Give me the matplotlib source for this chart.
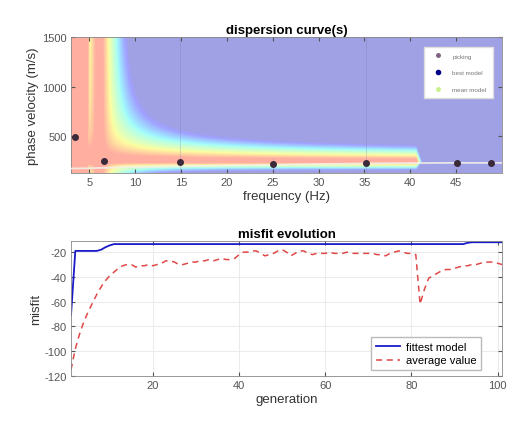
import numpy as np
import matplotlib
matplotlib.use("Agg")
import matplotlib.pyplot as plt
from matplotlib.lines import Line2D

plt.rcParams['font.family'] = ['Liberation Sans', 'DejaVu Sans']
plt.rcParams['axes.unicode_minus'] = False

# ---------------- data ----------------
pick_freq = [3.4, 6.6, 14.9, 25.0, 35.2, 45.1, 48.8]
pick_vel = [490, 255, 245, 225, 235, 230, 230]
pick_err = [30, 30, 1300, 60, 1300, 30, 30]

mean_freq = [3.0, 5.0, 6.6, 10.0, 15.0, 20.0, 25.0, 30.0, 35.0, 40.0, 45.0, 50.0]
mean_vel = [175, 178, 182, 190, 198, 205, 212, 220, 226, 230, 232, 232]

# ridge structure of the background misfit map
ridge_left_center = 3.85
ridge_left_halfwidth = 0.8
ridge_vert_freq = 6.05
ridge_vert_width = 1.9
ridge_horiz_vel = 245
ridge_end_freq = 40.7

generation = list(range(1, 102))
fittest = ([-71, -19, -19, -19, -19, -19, -19, -18, -16, -14.5, -13.5]
           + [-13.5] * 81 + [-12.5] + [-12] * 8)
average = [-115, -98, -86, -76, -68, -61, -54, -48, -43, -39,
           -36, -33, -31, -30, -30, -32, -31, -31, -30, -31,
           -30, -29, -27, -27, -28, -30, -30, -29, -28, -28,
           -27, -27, -26, -27, -26, -25, -26, -26, -25, -22,
           -20, -20, -19, -19, -21, -23, -22, -21, -19, -18,
           -20, -23, -21, -19, -19, -21, -22, -21, -21, -21,
           -20, -21, -21, -21, -20, -21, -21, -21, -21, -21,
           -21, -22, -22, -23, -21, -20, -19, -20, -21, -21,
           -22, -62, -50, -41, -39, -37, -35, -34, -34, -33,
           -32, -31, -31, -30, -30, -29, -28, -28, -28, -29,
           -30]

# ---------------- figure ----------------
fig = plt.figure(figsize=(5.09, 4.27), dpi=100)
ax1 = fig.add_axes([71/509, 1-174/427, 431/509, 136/427])
ax2 = fig.add_axes([71/509, 1-377/427, 431/509, 135/427])

tick_col = '#555555'

# background map
F = np.linspace(3, 50, 500)
V = np.linspace(130, 1500, 400)
FF, VV = np.meshgrid(F, V)
d_left = np.clip(np.abs(FF - ridge_left_center) - ridge_left_halfwidth, 0, None) / 0.8
d1 = np.abs(FF - ridge_vert_freq) / ridge_vert_width
vw = np.where(VV >= ridge_horiz_vel, 90 + 1700 / FF, 70.0)
d2 = np.abs(VV - ridge_horiz_vel) / vw
d_h = d1 * d2 / (d1 + d2 + 1e-9)
fade = np.clip((FF - ridge_end_freq) * 1.5, 0, 1)
d_h = d_h + fade * 1.2
d = np.minimum(d_left, d_h)
J = 0.87 - 0.82 * np.clip((d - 0.2) / 1.0, 0, 1)
rgb = plt.cm.jet(J)[..., :3]
alpha = 0.37
rgb = 1 - alpha * (1 - rgb)
ax1.imshow(rgb, extent=[3, 50, 130, 1500], origin='lower', aspect='auto',
           interpolation='bilinear')

ax1.plot(mean_freq, mean_vel, color='#f2f2ea', lw=1.3, alpha=0.85, zorder=3)
ax1.errorbar(pick_freq, pick_vel, yerr=pick_err, fmt='none',
             ecolor='#8080b0', elinewidth=0.6, alpha=0.35, zorder=3)
ax1.plot(pick_freq, pick_vel, 'o', color='#3a2a3a', ms=4, zorder=4)

ax1.set_xlim(3, 50)
ax1.set_ylim(130, 1500)
ax1.set_xticks([5, 10, 15, 20, 25, 30, 35, 40, 45])
ax1.set_yticks([500, 1000, 1500])
ax1.set_title('dispersion curve(s)', fontsize=9.5, fontweight='bold', pad=3)
ax1.set_xlabel('frequency (Hz)', fontsize=9.5, labelpad=2, color='#333333')
ax1.set_ylabel('phase velocity (m/s)', fontsize=9.5, labelpad=2, color='#333333')

handles = [
    Line2D([], [], marker='o', ls='', color='#806080', ms=2.5),
    Line2D([], [], marker='o', ls='', color='#000088', ms=3),
    Line2D([], [], marker='o', ls='', color='#c8f090', ms=2.5),
]
leg1 = ax1.legend(handles, ['picking', 'best model', 'mean model'],
                  loc='upper right', bbox_to_anchor=(0.986, 0.95), fontsize=4.5,
                  labelspacing=1.8, handlelength=2.5, borderpad=1.0,
                  fancybox=False, framealpha=1, edgecolor='#dddddd',
                  handletextpad=1.0)
leg1.set_zorder(6)
for t in leg1.get_texts():
    t.set_color('#777777')

ax2.plot(generation, fittest, color='#1a1acc', lw=1.3, label='fittest model')
ax2.plot(generation, average, color='#e04848', lw=1.1, ls=(0, (4, 3)),
         label='average value')
ax2.set_xlim(1, 101)
ax2.set_ylim(-120, -11)
ax2.set_xticks([20, 40, 60, 80, 100])
ax2.set_yticks([-120, -100, -80, -60, -40, -20])
ax2.grid(True, color='#e8e8e8', lw=0.6)
ax2.set_title('misfit evolution', fontsize=9.5, fontweight='bold', pad=3)
ax2.set_xlabel('generation', fontsize=9.5, labelpad=2, color='#333333')
ax2.set_ylabel('misfit', fontsize=9.5, labelpad=2, color='#333333')
leg2 = ax2.legend(loc='lower right', bbox_to_anchor=(0.965, 0.0), fontsize=8,
                  fancybox=False, framealpha=1, edgecolor='#bbbbbb',
                  handlelength=2.2, borderpad=0.45, labelspacing=0.3,
                  handletextpad=0.5)

for ax in (ax1, ax2):
    ax.tick_params(direction='in', labelsize=8, colors=tick_col, length=3,
                   top=True, right=True, pad=3)
    for s in ax.spines.values():
        s.set_color('#888888')
        s.set_linewidth(0.6)

fig.savefig('out.png', dpi=100)
